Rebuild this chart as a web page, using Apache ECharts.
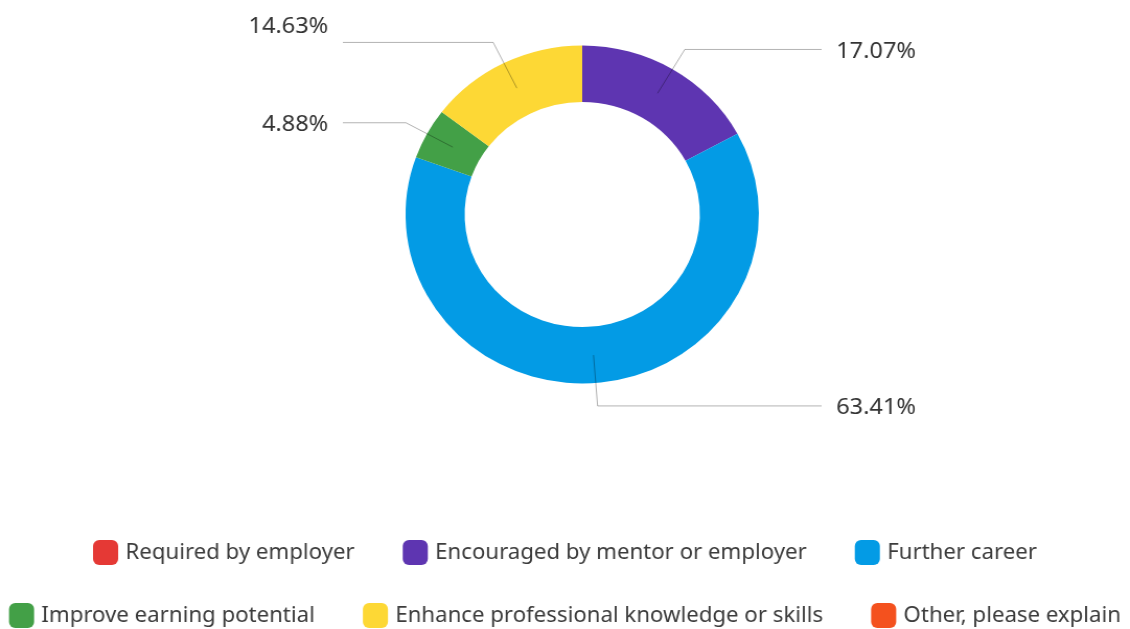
<!DOCTYPE html>
<html>
<head>
<meta charset="utf-8">
<title>Reasons for pursuing the credential</title>
<script src="https://cdn.jsdelivr.net/npm/echarts@6/dist/echarts.min.js"></script>
<style>
  html, body { margin: 0; padding: 0; background: #ffffff; overflow: hidden; }
  #wrap { width: 1130px; height: 629px; overflow: hidden; }
  /* the drawing is laid out on a slightly narrower canvas and widened to fill the frame */
  #chart { width: 1081px; height: 629px; transform: scaleX(1.0453); transform-origin: 0 0; }
</style>
</head>
<body>
<div id="wrap"><div id="chart"></div></div>
<script>
// Answer categories, in drawing order (clockwise from 12 o'clock)
const categories = [
  'Required by employer',
  'Encouraged by mentor or employer',
  'Further career',
  'Improve earning potential',
  'Enhance professional knowledge or skills',
  'Other, please explain'
];
// Share of respondents, percent
const shares = [0, 17.07, 63.41, 4.88, 14.63, 0];
// Legend rows
const legendRowOne = categories.slice(0, 3);
const legendRowTwo = categories.slice(3);

// ---- look & layout ----
const palette = ['#E53935', '#5E35B1', '#039BE5', '#43A047', '#FDD835', '#F4511E'];
const FONT = '"Noto Sans", "Open Sans", sans-serif';
const CX = 557, CY = 214.5;          // ring centre
const R_OUT = 169, R_IN = 112.5;     // ring radii
const R_GUIDE = 141;                 // guide lines start mid-band
const REACH = 229;                   // horizontal reach of the guide-line ends from the centre
const TEXT_GAP = 14;
const TEXT_DROP = 2;
const liftedLabels = { 'Enhance professional knowledge or skills': 18 };

const chart = echarts.init(document.getElementById('chart'), null, { renderer: 'canvas' });

const legendBase = {
  left: 'center',
  width: 1081,
  padding: 0,
  orient: 'horizontal',
  icon: 'roundRect',
  itemWidth: 24,
  itemHeight: 25,
  itemGap: 46,
  selectedMode: false,
  textStyle: { fontFamily: FONT, fontSize: 21.25, color: '#3c3c3c', lineHeight: 25, padding: [0, 0, 0, 2] }
};

const option = {
  animation: false,
  backgroundColor: '#ffffff',
  legend: [
    Object.assign({}, legendBase, { data: legendRowOne, top: 540 }),
    Object.assign({}, legendBase, { data: legendRowTwo, top: 603 })
  ],
  series: [
    {
      type: 'pie',
      name: 'ring',
      z: 2,
      center: [CX, CY],
      radius: [R_IN, R_OUT],
      startAngle: 90,
      clockwise: true,
      silent: true,
      avoidLabelOverlap: false,
      label: { show: false },
      labelLine: { show: false },
      emphasis: { disabled: true },
      data: categories.map((name, i) => ({ name: name, value: shares[i], itemStyle: { color: palette[i] } }))
    },
    {
      // carries the percentage labels; its rim sits in the middle of the ring
      type: 'pie',
      name: 'labels',
      z: 5,
      center: [CX, CY],
      radius: [0, R_GUIDE],
      startAngle: 90,
      clockwise: true,
      silent: true,
      legendHoverLink: false,
      avoidLabelOverlap: false,
      minShowLabelAngle: 0.5,
      emphasis: { disabled: true },
      itemStyle: { color: 'rgba(0,0,0,0)' },
      label: {
        show: true,
        position: 'outside',
        formatter: p => p.value.toFixed(2) + '%',
        fontFamily: FONT,
        fontSize: 22.5,
        color: '#333333'
      },
      labelLine: {
        show: true,
        length: 51,
        length2: 20,
        lineStyle: { color: 'rgba(0,0,0,0.3)', width: 1 }
      },
      labelLayout: function (params) {
        const pts = params.labelLinePoints;
        if (!pts) return {};
        const right = pts[1][0] >= CX;
        const endX = right ? CX + REACH : CX - REACH;
        const y = pts[1][1];
        const lift = liftedLabels[categories[params.dataIndex]] || 0;
        return {
          x: right ? endX + TEXT_GAP : endX - TEXT_GAP,
          y: y - lift + TEXT_DROP,
          align: right ? 'left' : 'right',
          verticalAlign: 'middle',
          labelLinePoints: [pts[0], pts[1], [endX, y]]
        };
      },
      data: categories.map((name, i) => ({ name: name, value: shares[i] }))
    }
  ]
};

chart.setOption(option);
</script>
</body>
</html>
